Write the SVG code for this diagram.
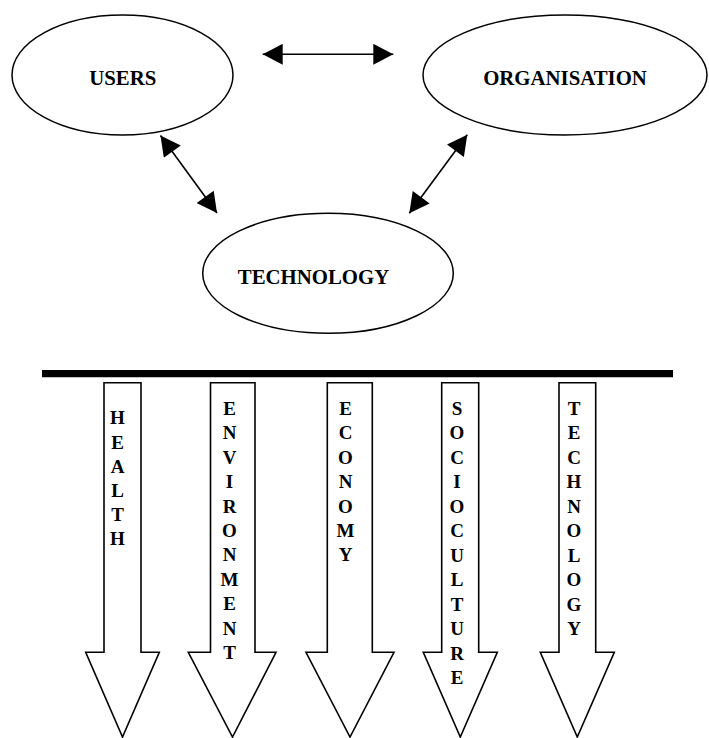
<svg xmlns="http://www.w3.org/2000/svg" width="709" height="738" viewBox="0 0 709 738">
<style>
.node ellipse{fill:#fff;stroke:#000;stroke-width:1.5}
.lbl{font-family:"Liberation Serif","Times New Roman",serif;font-weight:bold;font-size:20.8px;fill:#000;text-anchor:middle}
.conn line{stroke:#000;stroke-width:1.6;marker-start:url(#ah);marker-end:url(#ah)}
.blk polygon{fill:#fff;stroke:#000;stroke-width:1.6}
.v{font-family:"Liberation Serif","Times New Roman",serif;font-weight:bold;font-size:19px;fill:#000;text-anchor:middle}
</style>
<defs>
<marker id="ah" markerUnits="userSpaceOnUse" markerWidth="21" markerHeight="21" viewBox="0 0 20 21" refX="20" refY="10.5" orient="auto-start-reverse">
<path d="M0,0 L20,10.5 L0,21 Z" fill="#000"/>
</marker>
</defs>
<rect width="709" height="738" fill="#fff"/>
<g id="users" class="node">
<ellipse cx="122.5" cy="75" rx="110.5" ry="60"/>
<text class="lbl" x="122.7" y="85">USERS</text>
</g>
<g id="organisation" class="node">
<ellipse cx="565" cy="75" rx="142" ry="60"/>
<text class="lbl" x="565" y="85">ORGANISATION</text>
</g>
<g id="technology" class="node">
<ellipse cx="328" cy="273.3" rx="125.3" ry="60"/>
<text class="lbl" x="313.5" y="283.5">TECHNOLOGY</text>
</g>
<g id="connectors" class="conn">
<line x1="262.7" y1="54.3" x2="393.3" y2="54.3"/>
<line x1="160.5" y1="135.5" x2="217" y2="213"/>
<line x1="467.3" y1="134.7" x2="409.3" y2="213.3"/>
</g>
<g id="bar">
<line x1="42" y1="373.7" x2="673" y2="373.7" stroke="#000" stroke-width="7.3"/>
</g>
<g id="health" class="blk">
<polygon points="104,382.7 141,382.7 141,652.3 159.3,652.3 122.5,737 85.7,652.3 104,652.3"/>
<text class="v"><tspan x="117.5" y="424.3">H</tspan><tspan x="117.5" y="448.5">E</tspan><tspan x="117.5" y="472.7">A</tspan><tspan x="117.5" y="496.9">L</tspan><tspan x="117.5" y="521.1">T</tspan><tspan x="117.5" y="545.3">H</tspan></text>
</g>
<g id="environment" class="blk">
<polygon points="210.5,382.7 255,382.7 255,652.3 276,652.3 232.5,737 188.3,652.3 210.5,652.3"/>
<text class="v"><tspan x="229.5" y="415">E</tspan><tspan x="229.5" y="439.4">N</tspan><tspan x="229.5" y="463.8">V</tspan><tspan x="229.5" y="488.2">I</tspan><tspan x="229.5" y="512.6">R</tspan><tspan x="229.5" y="537">O</tspan><tspan x="229.5" y="561.4">N</tspan><tspan x="229.5" y="585.8">M</tspan><tspan x="229.5" y="610.2">E</tspan><tspan x="229.5" y="634.6">N</tspan><tspan x="229.5" y="659">T</tspan></text>
</g>
<g id="economy" class="blk">
<polygon points="327.3,382.7 372.3,382.7 372.3,652.3 394,652.3 350,737 306,652.3 327.3,652.3"/>
<text class="v"><tspan x="345.5" y="415">E</tspan><tspan x="345.5" y="439.4">C</tspan><tspan x="345.5" y="463.8">O</tspan><tspan x="345.5" y="488.2">N</tspan><tspan x="345.5" y="512.6">O</tspan><tspan x="345.5" y="537">M</tspan><tspan x="345.5" y="561.4">Y</tspan></text>
</g>
<g id="socioculture" class="blk">
<polygon points="441.7,382.7 478.7,382.7 478.7,652.3 497.3,652.3 460.3,737 423.3,652.3 441.7,652.3"/>
<text class="v"><tspan x="457" y="414.5">S</tspan><tspan x="457" y="439">O</tspan><tspan x="457" y="463.5">C</tspan><tspan x="457" y="488">I</tspan><tspan x="457" y="512.5">O</tspan><tspan x="457" y="537">C</tspan><tspan x="457" y="561.5">U</tspan><tspan x="457" y="586">L</tspan><tspan x="457" y="610.5">T</tspan><tspan x="457" y="635">U</tspan><tspan x="457" y="659.5">R</tspan><tspan x="457" y="684">E</tspan></text>
</g>
<g id="techology" class="blk">
<polygon points="559,382.7 595.7,382.7 595.7,652.3 614.3,652.3 577.3,737 540.3,652.3 559,652.3"/>
<text class="v"><tspan x="574" y="414.5">T</tspan><tspan x="574" y="439">E</tspan><tspan x="574" y="463.5">C</tspan><tspan x="574" y="488">H</tspan><tspan x="574" y="512.5">N</tspan><tspan x="574" y="537">O</tspan><tspan x="574" y="561.5">L</tspan><tspan x="574" y="586">O</tspan><tspan x="574" y="610.5">G</tspan><tspan x="574" y="635">Y</tspan></text>
</g>
</svg>
